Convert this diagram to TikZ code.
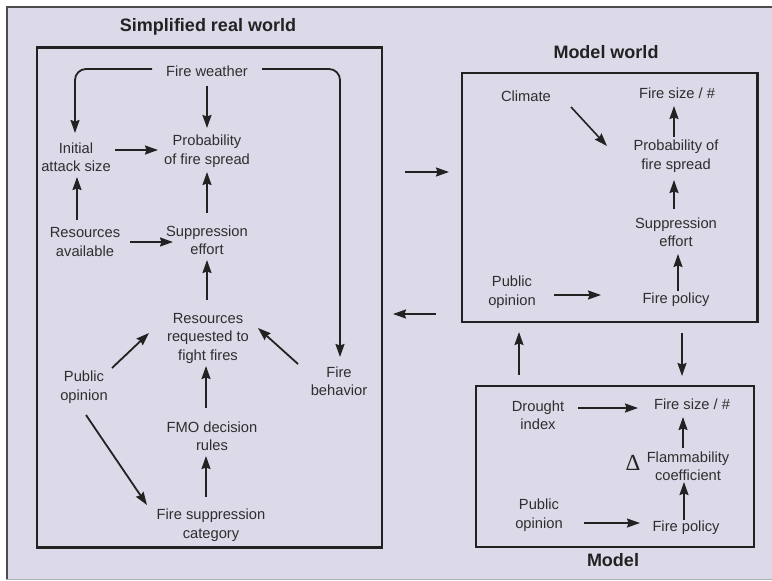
\documentclass[tikz,border=0pt]{standalone}
\usepackage{fontspec}
\setmainfont{Liberation Sans}
\newfontfamily\greekserif{Liberation Serif}
\usetikzlibrary{arrows.meta,calc}
\definecolor{panel}{HTML}{DCDAE8}
\definecolor{ink}{HTML}{222222}
\definecolor{txt}{HTML}{2E2E2E}
\begin{document}
\begin{tikzpicture}[x=1pt,y=-1pt,
  lbl/.style={align=center,inner sep=0pt,text=txt,font=\fontsize{14.7}{18.5}\selectfont},
  ttl/.style={inner sep=0pt,text=ink,font=\fontsize{18}{20}\selectfont\bfseries},
  frame/.style={draw=ink,line width=2.2pt,inner sep=0pt},
  arr/.style={draw=ink,line width=1.8pt,-{Stealth[length=13pt,width=9pt,inset=1.5pt]}},
  arrthin/.style={arr,line width=1.6pt}]
% page and panel
\useasboundingbox (0,0) rectangle (772,581);
\fill[white] (0,0) rectangle (772,581);
\fill[panel] (6,6) rectangle (772,579);
\draw[black!70,line width=1.5pt] (772,6.75) -- (6.75,6.75) -- (6.75,579);
\draw[black!30,line width=1pt] (6,579.5) -- (772,579.5);

% frames and titles
\node[frame,minimum width=345,minimum height=500] (lbox) at (209.5,297.5) {};
\node[frame,minimum width=295.5,minimum height=249] (mw) at (609.75,197.5) {};
\node[frame,minimum width=278,minimum height=161] (model) at (615,466.5) {};
\node[ttl] (tsrw) at (208,27) {Simplified real world};
\node[ttl] (tmw) at (606,52) {Model world};
\node[ttl] (tmod) at (613,560) {Model};

% simplified real world
\node[lbl] (fw) at (207,71) {Fire weather};
\node[lbl] (prob) at (207,151) {Probability\\of fire spread};
\node[lbl] (init) at (76,157) {Initial\\attack size};
\node[lbl] (avail) at (85,242) {Resources\\available};
\node[lbl] (supp) at (207,240) {Suppression\\effort};
\node[lbl] (req) at (208,338) {Resources\\requested to\\fight fires};
\node[lbl] (pub) at (84,387) {Public\\opinion};
\node[lbl] (beh) at (339,381) {Fire\\behavior};
\node[lbl] (fmo) at (212,436) {FMO decision\\rules};
\node[lbl] (cat) at (211,525) {Fire suppression\\category};

\draw[arr,rounded corners=11pt] ($(fw)+(-55,-2)$) -| ($(init)+(-1,-24)$);
\draw[arr,rounded corners=11pt] ($(fw)+(55,-2)$) -| ($(beh)+(1,-24)$);
\draw[arr] ($(fw)+(0,15)$) -- ($(prob)+(0,-23)$);
\draw[arr] ($(init)+(39,-7)$) -- ($(prob)+(-49,-1)$);
\draw[arr] ($(avail)+(-8,-22)$) -- ($(init)+(1,20)$);
\draw[arr] ($(avail)+(45,0)$) -- ($(supp)+(-34,2)$);
\draw[arr] ($(supp)+(0,-27)$) -- ($(prob)+(0,21)$);
\draw[arr] ($(req)+(-1,-38)$) -- ($(supp)+(0,20)$);
\draw[arr] ($(pub)+(28,-19)$) -- ($(req)+(-59,-5)$);
\draw[arr] ($(beh)+(-41,-17)$) -- ($(req)+(50,-10)$);
\draw[arr] ($(fmo)+(-6,-28)$) -- ($(req)+(-2,28)$);
\draw[arr] ($(cat)+(-5,-28)$) -- ($(fmo)+(-6,20)$);
\draw[arr] ($(pub)+(2,28)$) -- ($(cat)+(-64,-20)$);

% links between the worlds
\draw[arrthin] ($(lbox)+(195.5,-125.5)$) -- ($(mw)+(-160.75,-25.5)$);
\draw[arrthin] ($(mw)+(-173.75,116.5)$) -- ($(lbox)+(183.5,16.5)$);
\draw[arrthin] ($(model)+(-96,-91.5)$) -- ($(mw)+(-90.75,134.5)$);
\draw[arrthin] ($(mw)+(72.25,135.5)$) -- ($(model)+(67,-90.5)$);

% model world
\node[lbl] (clim) at (526,96) {Climate};
\node[lbl] (mfs) at (677,93) {Fire size / \#};
\node[lbl] (mprob) at (676,156) {Probability of\\fire spread};
\node[lbl] (msupp) at (676,232) {Suppression\\effort};
\node[lbl] (mpol) at (676,300) {Fire policy};
\node[lbl] (mpub) at (512,292) {Public\\opinion};

\draw[arrthin] ($(clim)+(45,11)$) -- ($(mprob)+(-69,-10)$);
\draw[arrthin] ($(mprob)+(-2,-19)$) -- ($(mfs)+(-3,13)$);
\draw[arrthin] ($(msupp)+(-2,-23)$) -- ($(mprob)+(-2,24)$);
\draw[arrthin] ($(mpol)+(2,-9)$) -- ($(msupp)+(2,22)$);
\draw[arrthin] ($(mpub)+(42,3)$) -- ($(mpol)+(-75,-5)$);

% model
\node[lbl] (dr) at (538,415) {Drought\\index};
\node[lbl] (fs) at (692,404) {Fire size / \#};
\node[lbl] (flam) at (688,466) {Flammability\\coefficient};
\node[inner sep=0pt,text=ink,font=\greekserif\fontsize{23}{23}\selectfont] (delta) at (633,463) {Δ};
\node[lbl] (pub2) at (539,515) {Public\\opinion};
\node[lbl] (pol) at (686,528) {Fire policy};

\draw[arrthin] ($(dr)+(40,-7)$) -- ($(fs)+(-54,4)$);
\draw[arrthin] ($(flam)+(-5,-18)$) -- ($(fs)+(-9,13)$);
\draw[arrthin] ($(pol)+(-2,-8)$) -- ($(flam)+(-4,16)$);
\draw[arrthin] ($(pub2)+(45,8)$) -- ($(pol)+(-46,-5)$);
\end{tikzpicture}
\end{document}
